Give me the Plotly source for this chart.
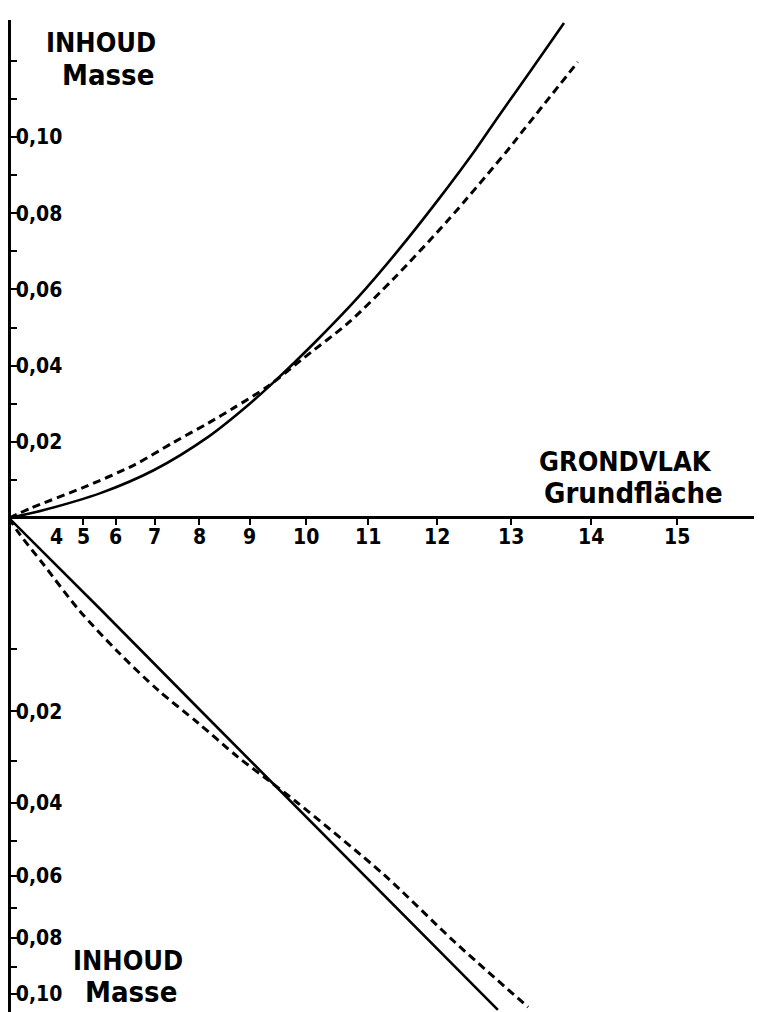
import plotly.graph_objects as go

# ---------------- data ----------------
# Horizontal axis: "Grundfläche" labels; the axis is linear in label² (basal area)
x_tick_labels = [2, 3, 4, 5, 6, 7, 8, 9, 10, 11, 12, 13, 14, 15]
x_tick_shown = ["", "", "4", "5", "6", "7", "8", "9", "10", "11", "12", "13", "14", "15"]

# Upper panel (linear volume axis)
upper_y_ticks = [0.01, 0.02, 0.03, 0.04, 0.05, 0.06, 0.07, 0.08, 0.09, 0.10, 0.11, 0.12]
upper_y_text = ["", "0,02", "", "0,04", "", "0,06", "", "0,08", "", "0,10", "", ""]

upper_solid_d = [0, 3.43, 5.57, 6.99, 8.19, 8.97, 9.48, 10.13, 10.84, 11.45, 12.02, 12.53, 12.83, 13.26, 13.67]
upper_solid_v = [0, 0.0021, 0.0066, 0.0126, 0.0213, 0.0296, 0.0362, 0.0458, 0.0579, 0.0703, 0.0835, 0.0966, 0.1052, 0.1176, 0.1299]

upper_dash_d = [0, 2.72, 5.03, 6.49, 7.45, 8.19, 8.70, 9.34, 9.92, 10.70, 11.39, 12.16, 12.96, 13.13, 13.84]
upper_dash_v = [0, 0.0026, 0.0081, 0.0139, 0.0199, 0.0249, 0.0289, 0.0346, 0.0415, 0.0514, 0.0630, 0.0782, 0.0966, 0.1010, 0.1197]

# Lower panel (power-scaled volume axis, drawn downward)
lower_y_ticks = [0.01, 0.02, 0.03, 0.04, 0.05, 0.06, 0.07, 0.08, 0.09, 0.10]
lower_y_text = ["", "0,02", "", "0,04", "", "0,06", "", "0,08", "", "0,10"]

lower_solid_d = [0, 5.57, 8.04, 9.92, 11.49, 12.83]
lower_solid_v = [0, 0.00531, 0.01996, 0.04232, 0.07137, 0.10609]

lower_dash_d = [0, 1.74, 3.43, 4.85, 6.06, 7.08, 7.98, 8.78, 9.34, 9.86, 11.24, 12.25, 13.22]
lower_dash_v = [0, 0.000184, 0.00160, 0.00531, 0.01040, 0.01624, 0.02222, 0.02924, 0.03445, 0.04003, 0.05983, 0.08136, 0.10497]

# ---------------- scales ----------------
P = 0.56            # exponent of the lower (power) volume scale


def sq(vals):
    return [v * v for v in vals]


def pw(vals):
    return [v ** P for v in vals]


# the page body adds an 8 px offset; the figure fills the rest of the window
OFF = 8
W, H = 762 - OFF, 1012 - OFF
ML = 3                       # left margin so the y-axis line is visible
PX_PER_X = 2.97              # pixels per label² unit
X0 = (ML + OFF - 9) / PX_PER_X
X_MAX = X0 + (W - ML) / PX_PER_X
PX_PER_V = 3810.0            # upper panel pixels per volume unit
UP_BOTTOM = 508.25           # figure row of the upper plot bottom
UP_TOP = 12
Y0_UP = (518 - OFF - UP_BOTTOM) / PX_PER_V
UPPER_MAX = (518 - 20) / PX_PER_V
LOW_TOP = 510
LOWER_MAX_T = (1012 - 518) / 1728.0


def px(xp, yp):
    return (xp - OFF - ML) / (W - ML), 1 - (yp - OFF) / H


FONT = "DejaVu Sans Condensed, DejaVu Sans, sans-serif"

fig = go.Figure()
fig.add_trace(go.Scatter(x=sq(upper_solid_d), y=upper_solid_v, mode="lines",
                         line=dict(color="black", width=2.6, shape="spline", smoothing=0.8),
                         xaxis="x", yaxis="y", showlegend=False))
fig.add_trace(go.Scatter(x=sq(upper_dash_d), y=upper_dash_v, mode="lines",
                         line=dict(color="black", width=3, dash="8px,5px", shape="spline", smoothing=0.8),
                         xaxis="x", yaxis="y", showlegend=False))
fig.add_trace(go.Scatter(x=sq(lower_solid_d), y=pw(lower_solid_v), mode="lines",
                         line=dict(color="black", width=2.6),
                         xaxis="x2", yaxis="y2", showlegend=False))
fig.add_trace(go.Scatter(x=sq(lower_dash_d), y=pw(lower_dash_v), mode="lines",
                         line=dict(color="black", width=3, dash="8px,5px", shape="spline", smoothing=0.8),
                         xaxis="x2", yaxis="y2", showlegend=False))

upper_dom = [1 - UP_BOTTOM / H, 1 - UP_TOP / H]
lower_dom = [0, 1 - LOW_TOP / H]

tickfont = dict(family=FONT, size=21, color="black", weight="bold")

fig.update_layout(
    width=W, height=H, autosize=False,
    margin=dict(l=ML, r=0, t=0, b=0, pad=0, autoexpand=False),
    paper_bgcolor="white", plot_bgcolor="rgba(0,0,0,0)",
    showlegend=False,
    xaxis=dict(domain=[0, 1], range=[X0, X_MAX], anchor="y",
               showline=True, linecolor="black", linewidth=2.5, ticks="outside",
               ticklen=6, tickwidth=2, tickcolor="black", tickvals=sq(x_tick_labels),
               showticklabels=False, showgrid=False, zeroline=False, automargin=False),
    yaxis=dict(domain=upper_dom, range=[Y0_UP, UPPER_MAX], anchor="x", showline=True,
               linecolor="black", linewidth=3, ticks="inside", ticklen=6,
               tickwidth=2, tickcolor="black", ticklabelposition="inside",
               tickvals=upper_y_ticks, ticktext=upper_y_text, tickfont=tickfont,
               showgrid=False, zeroline=False, automargin=False),
    xaxis2=dict(domain=[0, 1], range=[X0, X_MAX], anchor="y2", visible=False),
    yaxis2=dict(domain=lower_dom, range=[LOWER_MAX_T, 0], anchor="x2", showline=True,
                linecolor="black", linewidth=3, ticks="inside", ticklen=6,
                tickwidth=2, tickcolor="black", ticklabelposition="inside",
                tickvals=pw(lower_y_ticks), ticktext=lower_y_text, tickfont=tickfont,
                showgrid=False, zeroline=False, automargin=False),
)

# tick labels of the horizontal axis, placed through the x scale
label_row = 1 - (537 - OFF) / H
for val, txt in zip(sq(x_tick_labels), x_tick_shown):
    if txt:
        fig.add_annotation(x=val, y=label_row, xref="x", yref="paper", text=txt,
                           showarrow=False, xanchor="center", yanchor="middle",
                           font=dict(family=FONT, size=21, color="black", weight="bold"))

labels = [
    ("INHOUD", 101, 43, 27),
    ("Masse", 108, 75, 29),
    ("GRONDVLAK", 625, 461, 27),
    ("Grundfläche", 633, 493, 29),
    ("INHOUD", 128, 960, 27),
    ("Masse", 131, 992, 29),
]
for text, xp_, yp_, size in labels:
    fx, fy = px(xp_, yp_)
    fig.add_annotation(x=fx, y=fy, xref="paper", yref="paper", text=text,
                       showarrow=False, xanchor="center", yanchor="middle",
                       font=dict(family=FONT, size=size, color="black", weight="bold"))

fig.write_html("out.html")
